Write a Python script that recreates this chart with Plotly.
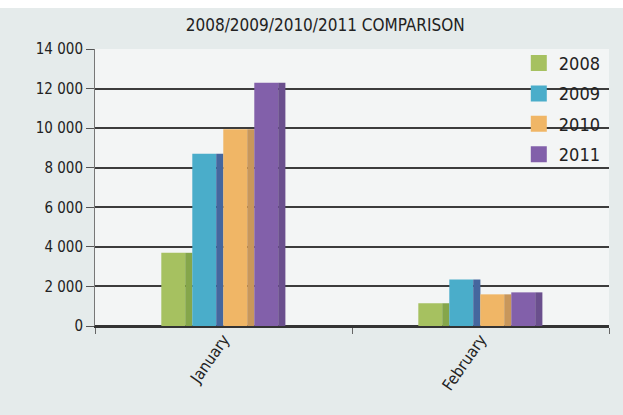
import plotly.graph_objects as go

months = ["January", "February"]
years = ["2008", "2009", "2010", "2011"]
v2008 = [3700, 1150]
v2009 = [8700, 2350]
v2010 = [9950, 1600]
v2011 = [12300, 1700]
series = [v2008, v2009, v2010, v2011]
front_colors = ["#a6c160", "#4aadca", "#f0b666", "#8260aa"]
side_colors = ["#85a64a", "#45679e", "#c8975b", "#6a4f8d"]
y_ticks = [0, 2000, 4000, 6000, 8000, 10000, 12000, 14000]

FONT = "Liberation Sans Narrow, DejaVu Sans Condensed, Roboto, sans-serif"

fig = go.Figure()
step = 0.1206
front_w = 0.093
side_w = 0.028
start = -0.242
for i, (yr, vals) in enumerate(zip(years, series)):
    off = start + i * step
    fig.add_trace(go.Bar(x=months, y=vals, offset=off, width=front_w,
                         marker=dict(color=front_colors[i], line=dict(width=0)),
                         showlegend=False, hoverinfo="skip"))
    fig.add_trace(go.Bar(x=months, y=vals, offset=off + front_w, width=side_w,
                         marker=dict(color=side_colors[i], line=dict(width=0)),
                         showlegend=False, hoverinfo="skip"))
    fig.add_trace(go.Scatter(x=[None], y=[None], mode="markers", name=yr,
                             legendgroup=yr,
                             marker=dict(symbol="square", size=20, color=front_colors[i])))

fig.update_layout(
    width=623, height=415,
    barmode="overlay",
    paper_bgcolor="#e5ebeb",
    plot_bgcolor="#f3f5f5",
    separators=". ",
    margin=dict(l=95, r=14, t=49, b=89),
    font=dict(family=FONT, size=15, color="#222222"),
    title=dict(text="2008/2009/2010/2011 COMPARISON", x=0.522, xref="container",
               xanchor="center", y=0.94, yref="container", yanchor="middle",
               font=dict(family=FONT, size=17, color="#222222")),
    legend=dict(x=0.8245, y=1.015, xanchor="left", yanchor="top",
                bgcolor="rgba(0,0,0,0)", font=dict(family=FONT, size=18),
                traceorder="grouped", tracegroupgap=4, itemwidth=30),
    xaxis=dict(type="category", tickson="boundaries", ticks="outside", ticklen=6,
               tickcolor="#666666", showline=True, linecolor="#333333", linewidth=1.5,
               tickangle=-55, showgrid=False, range=[-0.5, 1.5],
               ticklabelstandoff=-4,
               tickfont=dict(family=FONT, size=16)),
    yaxis=dict(range=[0, 14000], tickvals=y_ticks, tickformat=",d",
               ticks="outside", ticklen=8, tickcolor="#555555",
               showline=True, linecolor="#777777", linewidth=1,
               showgrid=True, gridcolor="#3c3c3c", gridwidth=1.5,
               zeroline=True, zerolinecolor="#333333", zerolinewidth=1.5,
               tickfont=dict(family=FONT, size=15)),
    shapes=[dict(type="rect", xref="paper", yref="paper", x0=-0.3, x1=1.1,
                 y0=1.148, y1=1.3, fillcolor="#ffffff", line=dict(width=0), layer="below")],
)

fig.write_html("out.html")
